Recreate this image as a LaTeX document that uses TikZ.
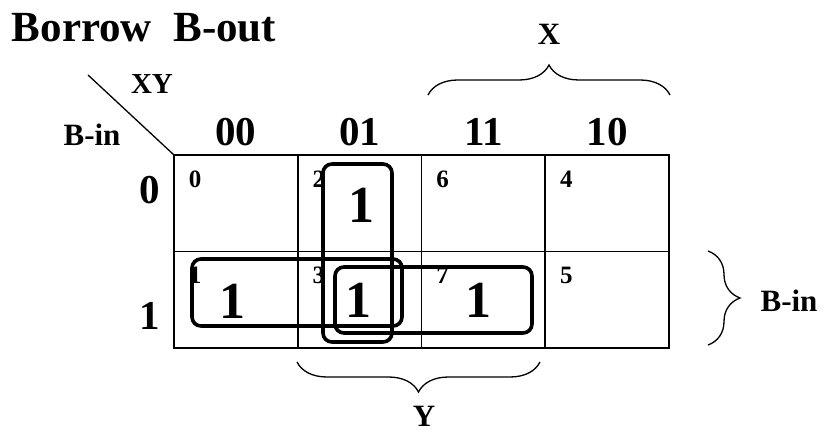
\documentclass[tikz,border=0pt]{standalone}
\usepackage{fontspec}
\setmainfont{Liberation Serif}
\usetikzlibrary{positioning,calc,decorations.pathreplacing}

\tikzset{
  kcell/.style={draw,line width=1.6pt,minimum width=123.75pt,minimum height=96.5pt,inner sep=0pt,outer sep=0pt},
  cellnum/.style={font=\fontsize{25}{27}\selectfont\bfseries,inner sep=0pt},
  bigone/.style={font=\fontsize{52}{56}\selectfont\bfseries,inner sep=0pt},
  hdr/.style={font=\fontsize{41}{45}\selectfont\bfseries,inner sep=0pt},
  varlbl/.style={font=\fontsize{31}{34}\selectfont\bfseries,inner sep=0pt},
  loopbox/.style={line width=3.6pt,rounded corners=9pt},
  kbrace/.style={line width=1.3pt,decorate,decoration={brace,amplitude=30pt}}
}

\begin{document}
\begin{tikzpicture}[x=1pt,y=-1pt]
\useasboundingbox (0,0) rectangle (829,435);

% title and corner labels
\node[font=\fontsize{43}{47}\selectfont\bfseries,inner sep=0pt] (title) at (144,28) {Borrow\ \ B-out};
\node[varlbl,font=\fontsize{29}{32}\selectfont\bfseries] (xy) at (152,84) {XY};
\node[varlbl] (bin) at (92,135) {B-in};

% the map: cells 0 2 6 4 / 1 3 7 5
\foreach \n/\c/\r in {0/0/0,2/1/0,6/2/0,4/3/0,1/0/1,3/1/1,7/2/1,5/3/1}{
  \node[kcell] (c\n) at (174+\c*123.75+61.875,155+\r*96.5+48.25) {};
  \node[cellnum] (n\n) at ($(c\n.north west)+(21,24)$) {\n};}

\coordinate (dA) at (88,75);
\draw[line width=1.3pt] (dA) -- (c0.north west);

% column and row headings
\foreach \n/\t in {0/00,2/01,6/11,4/10}{
  \node[hdr] (h\t) at ($(c\n.north)+(0,-23)$) {\t};}
\node[hdr] (r0) at (150,190) {0};
\node[hdr] (r1) at (150,316) {1};

% minterms
\node[bigone] (one2) at ($(c2)+(2,2)$) {1};
\node[bigone] (one1) at ($(c1)+(-3,2)$) {1};
\node[bigone] (one3) at ($(c3)+(-1,1)$) {1};
\node[bigone] (one7) at ($(c7)+(-5,1)$) {1};

% groupings
\draw[loopbox] (323,164) rectangle (392,342);
\draw[loopbox] (192,259) rectangle (402,326);
\draw[loopbox] (335,267) rectangle (532,333);

% braces
\coordinate (xL) at (428,95);
\coordinate (xR) at (670,95);
\draw[kbrace] (xL) -- (xR);
\node[varlbl] (xlbl) at (549,34) {X};

\coordinate (yR) at (540,362);
\coordinate (yL) at (297,362);
\draw[kbrace] (yR) -- (yL);
\node[varlbl] (ylbl) at (424,416) {Y};

\coordinate (bT) at (708,251);
\coordinate (bB) at (708,345);
\draw[kbrace,decoration={amplitude=32pt}] (bT) -- (bB);
\node[varlbl] (binr) at (789,301) {B-in};
\end{tikzpicture}
\end{document}
